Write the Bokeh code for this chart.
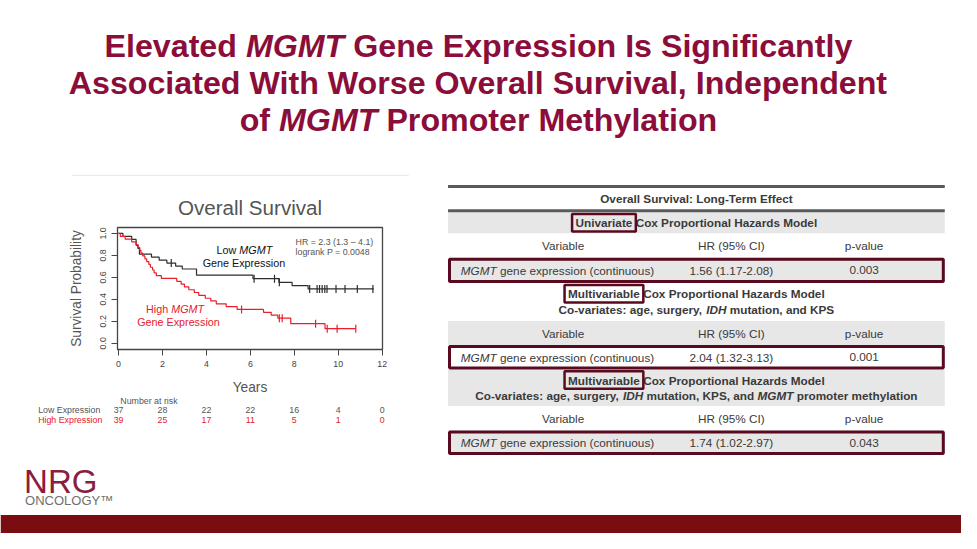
import numpy as np
from bokeh.plotting import figure
from bokeh.models import (Range1d, ColumnDataSource, Label, FixedTicker, NumeralTickFormatter)
from bokeh.layouts import column, row
from bokeh.embed import file_html
from bokeh.resources import INLINE
from bokeh.core.properties import value, field

FONT = "Liberation Sans"

# ---------------------------------------------------------------- data
title_lines = [
    [("Elevated ", False), ("MGMT", True), (" Gene Expression Is Significantly", False)],
    [("Associated With Worse Overall Survival, Independent", False)],
    [("of ", False), ("MGMT", True), (" Promoter Methylation", False)],
]

# Kaplan-Meier: Low MGMT expression
low_times = [0, 0.2, 0.6, 0.8, 0.88, 0.95, 1.5, 1.85, 2.2, 2.6, 2.9, 3.55, 6.12, 7.3, 7.9, 8.63, 11.62]
low_surv = [1.0, 0.973, 0.946, 0.892, 0.865, 0.811, 0.784, 0.757, 0.730, 0.703, 0.676, 0.620,
            0.588, 0.555, 0.525, 0.495, 0.495]
low_censor = [2.4, 6.17, 7.1, 7.32, 8.7, 9.04, 9.15, 9.27, 9.39, 9.49, 9.9, 10.31, 10.87, 11.58]

# Kaplan-Meier: High MGMT expression
high_times = [0, 0.08, 0.3, 0.6, 0.8, 0.9, 0.97, 1.02, 1.1, 1.2, 1.28, 1.38, 1.45, 1.55, 1.62,
              1.72, 1.95, 2.65, 2.85, 3.0, 3.2, 3.45, 3.65, 3.95, 4.2, 4.45, 4.9, 5.4, 6.6, 6.95,
              7.25, 7.84, 9.4, 10.8]
high_surv = [1.0, 0.974, 0.949, 0.923, 0.897, 0.872, 0.846, 0.821, 0.795, 0.769, 0.744, 0.718,
             0.692, 0.667, 0.641, 0.615, 0.590, 0.564, 0.538, 0.513, 0.487, 0.462, 0.436, 0.410,
             0.385, 0.359, 0.333, 0.308, 0.282, 0.256, 0.228, 0.178, 0.133, 0.133]
high_censor = [5.6, 7.32, 7.45, 8.97, 9.5, 9.95, 10.8]

risk_times = [0, 2, 4, 6, 8, 10, 12]
risk_low = [37, 28, 22, 22, 16, 4, 0]
risk_high = [39, 25, 17, 11, 5, 1, 0]
risk_row_names = ["Low Expression", "High Expression"]

x_ticks = [0, 2, 4, 6, 8, 10, 12]
y_ticks = [0.0, 0.2, 0.4, 0.6, 0.8, 1.0]

hr_text = ["HR = 2.3 (1.3 \u2013 4.1)", "logrank P = 0.0048"]

# Cox table
table_title = "Overall Survival: Long-Term Effect"
model_names = ["Univariate", "Multivariable", "Multivariable"]
model_rest = " Cox Proportional Hazards Model"
covariates = [
    None,
    [("Co-variates: age, surgery, ", False), ("IDH", True), (" mutation, and KPS", False)],
    [("Co-variates: age, surgery, ", False), ("IDH", True), (" mutation, KPS, and ", False),
     ("MGMT", True), (" promoter methylation", False)],
]
col_headers = ["Variable", "HR (95% CI)", "p-value"]
variable_name = [("MGMT", True), (" gene expression (continuous)", False)]
hr_values = ["1.56 (1.17-2.08)", "2.04 (1.32-3.13)", "1.74 (1.02-2.97)"]
p_values = ["0.003", "0.001", "0.043"]

# ---------------------------------------------------------------- page geometry
# Everything is laid out in the coordinates of the 977x549 slide and scaled to 961x533.
PW, PH = 961, 533
SX, SY = PW / 977.0, PH / 549.0
FS = 0.98                              # font scale

# ---------------------------------------------------------------- font metrics (Arial-compatible)
REG = {' ': 278, '!': 278, '%': 889, '(': 333, ')': 333, ',': 278, '-': 333, '.': 278, ':': 278,
       '=': 584, '\u2013': 556, '\u2122': 1000,
       'A': 667, 'B': 667, 'C': 722, 'D': 722, 'E': 667, 'F': 611, 'G': 778, 'H': 722, 'I': 278,
       'J': 500, 'K': 667, 'L': 556, 'M': 833, 'N': 722, 'O': 778, 'P': 667, 'Q': 778, 'R': 722,
       'S': 667, 'T': 611, 'U': 722, 'V': 667, 'W': 944, 'X': 667, 'Y': 667, 'Z': 611,
       'a': 556, 'b': 556, 'c': 500, 'd': 556, 'e': 556, 'f': 278, 'g': 556, 'h': 556, 'i': 222,
       'j': 222, 'k': 500, 'l': 222, 'm': 833, 'n': 556, 'o': 556, 'p': 556, 'q': 556, 'r': 333,
       's': 500, 't': 278, 'u': 556, 'v': 500, 'w': 722, 'x': 500, 'y': 500, 'z': 500}
BOLD = {' ': 278, '!': 333, '%': 889, '(': 333, ')': 333, ',': 278, '-': 333, '.': 278, ':': 333,
        '=': 584, '\u2013': 556,
        'A': 722, 'B': 722, 'C': 722, 'D': 722, 'E': 667, 'F': 611, 'G': 778, 'H': 722, 'I': 278,
        'J': 556, 'K': 722, 'L': 611, 'M': 833, 'N': 722, 'O': 778, 'P': 667, 'Q': 778, 'R': 722,
        'S': 667, 'T': 611, 'U': 722, 'V': 667, 'W': 944, 'X': 667, 'Y': 667, 'Z': 611,
        'a': 556, 'b': 611, 'c': 556, 'd': 611, 'e': 556, 'f': 333, 'g': 611, 'h': 611, 'i': 278,
        'j': 278, 'k': 556, 'l': 278, 'm': 889, 'n': 611, 'o': 611, 'p': 611, 'q': 611, 'r': 389,
        's': 556, 't': 333, 'u': 611, 'v': 556, 'w': 778, 'x': 556, 'y': 556, 'z': 500}


def tw(s, size, bold=False):
    t = BOLD if bold else REG
    return sum(t.get(c, 556) for c in s) * size / 1000.0


def place(segs, size, bold, cx=None, left=None, unit=1.0):
    """(x_left, text, style, width) for mixed-style segments; widths in px / unit."""
    widths = [tw(t, size, bold) / unit for t, _ in segs]
    x = (cx - sum(widths) / 2.0) if left is None else left
    out = []
    for (t, it), w in zip(segs, widths):
        lead = len(t) - len(t.lstrip(" "))
        style = ("bold " if bold else "") + ("italic" if it else "")
        style = style.strip() or "normal"
        out.append((x + tw(t[:lead], size, bold) / unit, t.strip(" "), style,
                    tw(t.strip(" "), size, bold) / unit))
        x += w
    return out


def slide_fig(px0, py0, px1, py1):
    """A blank figure covering page pixels [px0,px1]x[py0,py1], ranges in slide coordinates."""
    f = figure(width=px1 - px0, height=py1 - py0,
               x_range=Range1d(px0 / SX, px1 / SX), y_range=Range1d(py1 / SY, py0 / SY),
               output_backend="svg", toolbar_location=None, title=None,
               x_axis_location=None, y_axis_location=None, min_border=0, frame_align=False)
    f.xgrid.visible = False
    f.ygrid.visible = False
    f.outline_line_color = None
    f.background_fill_color = "white"
    f.border_fill_color = "white"
    return f


SPLIT_X, ROW_TOP, ROW_BOT, KM_BOT = 443, 180, 456, 397

# ---------------------------------------------------------------- title figure
tfig = slide_fig(0, 0, PW, ROW_TOP)
TSIZE = 32.2
tx, ty, tt, ts = [], [], [], []
for i, segs in enumerate(title_lines):
    for x, t, st, w in place(segs, TSIZE, True, cx=486, unit=SX):
        tx.append(x); ty.append([46.5, 85.0, 123.5][i]); tt.append(t); ts.append(st)
tfig.text(x="x", y="y", text="text", source=ColumnDataSource(dict(x=tx, y=ty, text=tt, style=ts)),
          text_font=value(FONT), text_font_size=f"{TSIZE}px", text_font_style=field("style"),
          text_color="#8B0D3A", text_align="left", text_baseline="middle")
tfig.segment(x0=[73], y0=[180], x1=[415], y1=[180], line_color="#e4e4e4", line_width=1)

# ---------------------------------------------------------------- KM figure
# slide geometry of the KM panel: x=0 at slide px 120, 22.333 px / year; y=0 at 354, 114 px / unit
X0, PXY, Y0, PXS = 120.0, 22.333, 354.0, 114.0
F_L, F_R, F_T, F_B = 117, 382, 227, 350          # frame edges in page pixels
xr = ((F_L / SX - X0) / PXY, (F_R / SX - X0) / PXY)
yr = ((Y0 - F_B / SY) / PXS, (Y0 - F_T / SY) / PXS)
km = figure(width=SPLIT_X, height=KM_BOT - ROW_TOP, x_range=Range1d(*xr), y_range=Range1d(*yr),
            output_backend="svg", toolbar_location=None, title="Overall Survival",
            min_border_left=F_L, min_border_right=SPLIT_X - F_R, min_border_top=F_T - ROW_TOP,
            min_border_bottom=KM_BOT - F_B, frame_align=False)
km.title.align = "center"
km.title.text_font = FONT
km.title.text_font_size = f"{21 * FS}px"
km.title.text_font_style = "normal"
km.title.text_color = "#555555"
km.title.standoff = 18
km.xgrid.visible = False
km.ygrid.visible = False
km.background_fill_color = "white"
km.border_fill_color = "white"
km.outline_line_color = "#444444"
km.outline_line_width = 1.3
km.xaxis.ticker = FixedTicker(ticks=x_ticks)
km.yaxis.ticker = FixedTicker(ticks=y_ticks)
km.yaxis.formatter = NumeralTickFormatter(format="0.0")
for ax in (km.xaxis[0], km.yaxis[0]):
    ax.axis_line_color = None
    ax.major_tick_line_color = "#444444"
    ax.major_tick_out = 6
    ax.major_tick_in = 0
    ax.minor_tick_line_color = None
    ax.major_label_text_font = FONT
    ax.major_label_text_font_size = f"{9 * FS}px"
    ax.major_label_text_color = "#444444"
    ax.axis_label_text_font = FONT
    ax.axis_label_text_font_style = "normal"
    ax.axis_label_text_color = "#555555"
    ax.axis_label_text_font_size = f"{14 * FS}px"
km.yaxis.major_label_orientation = "vertical"
km.xaxis.axis_label = "Years"
km.xaxis.axis_label_standoff = 10
km.yaxis.axis_label = "Survival Probability"
km.yaxis.axis_label_standoff = 14

LOW_C, HIGH_C = "#2e2e2e", "#e8202a"
km.step(low_times, low_surv, mode="after", line_color=LOW_C, line_width=1.2)
km.step(high_times, high_surv, mode="after", line_color=HIGH_C, line_width=1.2)


def surv_at(times, surv, t):
    idx = np.searchsorted(np.asarray(times), np.asarray(t), side="right") - 1
    return np.asarray(surv)[idx]


km.scatter(low_censor, surv_at(low_times, low_surv, low_censor), marker="dash", angle=np.pi / 2,
           size=8, line_color=LOW_C, line_width=1.2)
km.scatter(high_censor, surv_at(high_times, high_surv, high_censor), marker="dash", angle=np.pi / 2,
           size=8, line_color=HIGH_C, line_width=1.2)

# HR annotation
for j, s in enumerate(hr_text):
    km.add_layout(Label(x=8.06, y=0.924 - j * 0.097, text=s, text_font=FONT,
                        text_font_size=f"{9 * FS}px", text_color="#555555", text_align="left",
                        text_baseline="middle"))


def km_segs(segs, size, cx, cy, color):
    for x, t, st, w in place(segs, size, False, cx=0):
        km.add_layout(Label(x=cx, y=cy, x_offset=x, text=t, text_font=FONT,
                            text_font_size=f"{size}px", text_font_style=st, text_color=color,
                            text_align="left", text_baseline="middle"))


KS = 11 * FS
km_segs([("Low ", False), ("MGMT", True)], KS, 5.73, 0.845, "#111111")
km_segs([("Gene Expression", False)], KS, 5.71, 0.728, "#111111")
km_segs([("High ", False), ("MGMT", True)], KS, 2.575, 0.313, HIGH_C)
km_segs([("Gene Expression", False)], KS, 2.73, 0.196, HIGH_C)

# ---------------------------------------------------------------- numbers-at-risk figure
risk = figure(width=SPLIT_X, height=ROW_BOT - KM_BOT,
              x_range=Range1d((0 - X0) / PXY, (SPLIT_X / SX - X0) / PXY),
              y_range=Range1d(ROW_BOT / SY, KM_BOT / SY),
              output_backend="svg", toolbar_location=None, title=None,
              x_axis_location=None, y_axis_location=None, min_border=0, frame_align=False)
risk.xgrid.visible = False
risk.ygrid.visible = False
risk.outline_line_color = None
risk.background_fill_color = "white"
risk.border_fill_color = "white"
RS = f"{9 * FS}px"
risk.text(x=[0.08], y=[412.9], text=["Number at risk"], text_font=value(FONT), text_font_size=RS,
          text_color="#555555", text_align="left", text_baseline="middle")
for name, counts, yy, col in ((risk_row_names[0], risk_low, 421.7, "#555555"),
                              (risk_row_names[1], risk_high, 432.3, HIGH_C)):
    risk.text(x=[-3.66], y=[yy], text=[name], text_font=value(FONT), text_font_size=RS,
              text_color=col, text_align="left", text_baseline="middle")
    risk.text(x=risk_times, y=[yy] * len(risk_times), text=[str(c) for c in counts],
              text_font=value(FONT), text_font_size=RS, text_color=col, text_align="center",
              text_baseline="middle")

# ---------------------------------------------------------------- table figure
tb = slide_fig(SPLIT_X, ROW_TOP, PW, ROW_BOT)
TXT = "#3a3a3a"
BOX = "#5a0a1e"
T_L, T_R, T_C = 455, 960, 707.5
COLS = [572, 743, 878]
TS = 12 * FS

row_h = [22, 25, 26, 39, 25, 25, 38, 25, 25]
tops = list(218 + np.concatenate([[0], np.cumsum(row_h)[:-1]]))
bots = [t + h for t, h in zip(tops, row_h)]
fills = ["#e7e7e7" if i % 2 == 0 else "white" for i in range(len(row_h))]
tb.quad(left=T_L, right=T_R, top=tops, bottom=bots, fill_color=fills, line_color=None)

# heavy rules around table title
tb.segment(x0=[T_L, T_L], y0=[191.5, 216.5], x1=[T_R, T_R], y1=[191.5, 216.5],
           line_color="#5a5a5a", line_width=3)

gx, gy, gt, gs, ga = [], [], [], [], []


def add_text(x, y, t, style, align="left"):
    gx.append(x); gy.append(y); gt.append(t); gs.append(style); ga.append(align)


add_text(T_C, 204, table_title, "bold", "center")

word_boxes = []
for b in range(3):
    si, hi, di = 3 * b, 3 * b + 1, 3 * b + 2
    segs = [(model_names[b], False), (model_rest, False)]
    if covariates[b] is None:
        ys = [(tops[si] + bots[si]) / 2.0]
    else:
        ys = [tops[si] + 11, tops[si] + 27]
    placed = place(segs, TS, True, cx=T_C, unit=SX)
    for k, (x, t, st, w) in enumerate(placed):
        add_text(x, ys[0], t, st)
        if k == 0:
            word_boxes.append((x - 3.5, x + w + 3.5, ys[0] - 9, ys[0] + 9))
    if covariates[b] is not None:
        for x, t, st, w in place(covariates[b], TS, True, cx=T_C, unit=SX):
            add_text(x, ys[1], t, st)
    hy = (tops[hi] + bots[hi]) / 2.0
    for cx, h in zip(COLS, col_headers):
        add_text(cx, hy, h, "normal", "center")
    dy = (tops[di] + bots[di]) / 2.0
    for x, t, st, w in place(variable_name, TS, False, left=468, unit=SX):
        add_text(x, dy, t, st)
    add_text(COLS[1], dy, hr_values[b], "normal", "center")
    add_text(COLS[2], dy, p_values[b], "normal", "center")

tb.text(x="x", y="y", text="text",
        source=ColumnDataSource(dict(x=gx, y=gy, text=gt, style=gs, align=ga)),
        text_font=value(FONT), text_font_size=f"{TS}px", text_font_style=field("style"),
        text_align=field("align"), text_baseline="middle", text_color=TXT)

# maroon boxes: data rows and model-name words
tb.quad(left=[456.5] * 3, right=[958.5] * 3, top=[tops[3 * b + 2] + 1.5 for b in range(3)],
        bottom=[bots[3 * b + 2] - 1.5 for b in range(3)], fill_color=None, line_color=BOX,
        line_width=3)
tb.quad(left=[w[0] for w in word_boxes], right=[w[1] for w in word_boxes],
        top=[w[2] for w in word_boxes], bottom=[w[3] for w in word_boxes],
        fill_color=None, line_color=BOX, line_width=2.5)

# ---------------------------------------------------------------- bottom figure (logo + bar)
bf = slide_fig(0, ROW_BOT, PW, PH)
bf.text(x=[24], y=[495.5], text=["NRG"], text_font=value(FONT), text_font_size="33px",
        text_color="#8C1D40", text_baseline="middle")
bf.text(x=[25], y=[514.5], text=["ONCOLOGY\u2122"], text_font=value(FONT), text_font_size="13px",
        text_color="#707070", text_baseline="middle")
bf.quad(left=[0], right=[977], top=[530], bottom=[549], fill_color="#7A0D12", line_color=None)

layout = column(tfig, row(column(km, risk), tb), bf)
open("out.html", "w").write(file_html(layout, INLINE))
